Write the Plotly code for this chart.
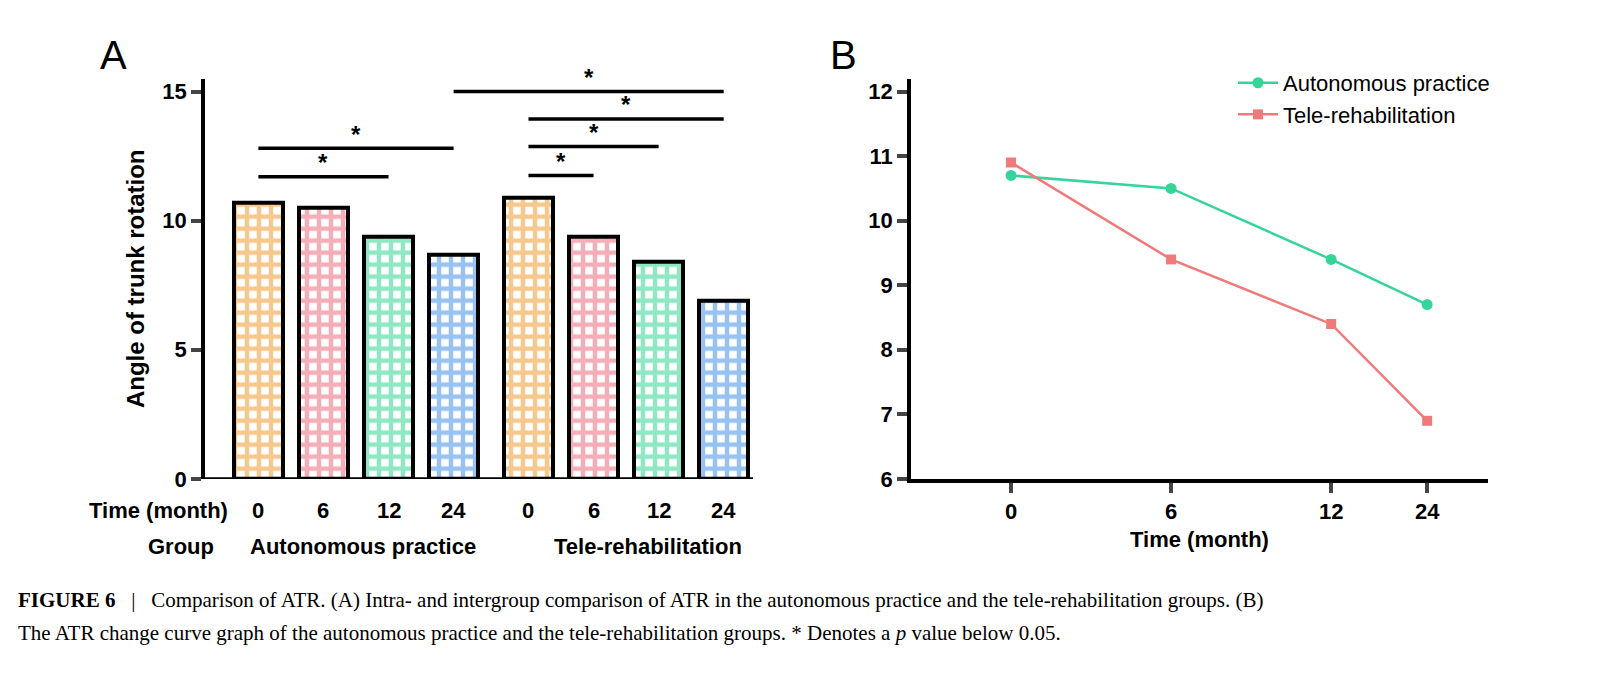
import plotly.graph_objects as go

months = ["0", "6", "12", "24"]
groups = ["Autonomous practice", "Tele-rehabilitation"]
auto_atr = [10.7, 10.5, 9.4, 8.7]
tele_atr = [10.9, 9.4, 8.4, 6.9]
bar_colors = ["#f0921c", "#ec5d6f", "#1fd288", "#2f86e6"]
# significance brackets: (from bar index, to bar index, y)
sig = [(0, 2, 11.7), (0, 3, 12.8), (4, 5, 11.75), (4, 6, 12.87), (4, 7, 13.94), (3, 7, 15.0)]

W, H = 1606, 686
bar_x = [0, 1, 2, 3, 4.15, 5.15, 6.15, 7.15]
line_x = [0, 1, 2, 2.6]

fig = go.Figure()
fig.add_trace(go.Bar(
    x=bar_x, y=auto_atr + tele_atr, width=0.76,
    marker=dict(color="white", line=dict(color="black", width=4),
                pattern=dict(shape="+", fgcolor=bar_colors * 2, bgcolor="white",
                             size=12, solidity=0.6)),
    xaxis="x", yaxis="y", showlegend=False))

for a, b, yv in sig:
    fig.add_trace(go.Scatter(x=[bar_x[a], bar_x[b]], y=[yv, yv], mode="lines",
                             line=dict(color="black", width=3.5), showlegend=False,
                             xaxis="x", yaxis="y", hoverinfo="skip"))
    fig.add_annotation(x=(bar_x[a] + bar_x[b]) / 2, y=yv, text="<b>*</b>", showarrow=False,
                       yshift=14, font=dict(size=24, color="black"), xref="x", yref="y")

fig.add_trace(go.Scatter(x=line_x, y=auto_atr, mode="lines+markers", name=groups[0],
                         line=dict(color="#35d59a", width=2.5),
                         marker=dict(symbol="circle", size=11, color="#35d59a"),
                         xaxis="x2", yaxis="y2"))
fig.add_trace(go.Scatter(x=line_x, y=tele_atr, mode="lines+markers", name=groups[1],
                         line=dict(color="#f07a7a", width=2.5),
                         marker=dict(symbol="square", size=10, color="#f07a7a"),
                         xaxis="x2", yaxis="y2"))

tickfont = dict(family="Liberation Sans, Arial", size=22, color="black")
ydom = [1 - 480 / H, 1 - 72 / H]
fig.update_layout(
    width=W, height=H, margin=dict(l=0, r=0, t=0, b=0),
    plot_bgcolor="white", paper_bgcolor="white",
    font=dict(family="Liberation Sans, Arial", color="black"),
    bargap=0,
    xaxis=dict(domain=[197 / W, 745 / W], range=[-0.82, 7.6], showticklabels=False,
               showline=False, showgrid=False, zeroline=False, ticks=""),
    yaxis=dict(domain=ydom, range=[0, 15.5], tickvals=[0, 5, 10, 15],
               ticktext=["<b>0</b>", "<b>5</b>", "<b>10</b>", "<b>15</b>"],
               tickfont=tickfont, showline=True, linecolor="black", linewidth=3.5,
               ticks="outside", ticklen=10, tickwidth=3.5, showgrid=False, zeroline=False,
               title=dict(text="<b>Angle of trunk rotation</b>", font=dict(size=24), standoff=12)),
    xaxis2=dict(domain=[903 / W, 1480 / W], range=[-0.625, 2.98], tickvals=line_x,
                ticktext=["<b>%s</b>" % m for m in months], tickfont=tickfont,
                showline=True, linecolor="black", linewidth=3.5, ticks="outside",
                ticklen=10, tickwidth=3.5, showgrid=False, zeroline=False,
                title=dict(text="<b>Time (month)</b>", font=dict(size=22), standoff=10)),
    yaxis2=dict(domain=ydom, anchor="x2", range=[6, 12.2], tickvals=[6, 7, 8, 9, 10, 11, 12],
                ticktext=["<b>%d</b>" % v for v in range(6, 13)], tickfont=tickfont,
                showline=True, linecolor="black", linewidth=3.5, ticks="outside",
                ticklen=10, tickwidth=3.5, showgrid=False, zeroline=False),
    legend=dict(x=1225 / W, y=1 - 55 / H, xanchor="left", yanchor="top",
                font=dict(size=22), bgcolor="rgba(0,0,0,0)", itemwidth=40, tracegroupgap=8),
)
# baseline of panel A
fig.add_shape(type="line", xref="x", yref="y", x0=-0.82, x1=7.6, y0=0, y1=0,
              line=dict(color="black", width=3.5))

def ann(x, y, text, size=22, xanchor="center", family="Liberation Sans, Arial"):
    fig.add_annotation(x=x / W, y=1 - y / H, xref="paper", yref="paper", text=text,
                       xanchor=xanchor, yanchor="middle", showarrow=False,
                       font=dict(size=size, color="black", family=family))

ann(105, 48, "A", size=40)
ann(835, 48, "B", size=40)
ann(150, 512, "<b>Time (month)</b>")
for i, xv in enumerate(bar_x):
    fig.add_annotation(x=xv, y=1 - 512 / H, xref="x", yref="paper", text="<b>%s</b>" % months[i % 4],
                       yanchor="middle", showarrow=False, font=tickfont)
ann(173, 549, "<b>Group</b>")
ann(355, 549, "<b>Autonomous practice</b>")
ann(640, 549, "<b>Tele-rehabilitation</b>")

serif = "Liberation Serif, Times New Roman"
ann(8, 603, "<b>FIGURE 6</b>   |   Comparison of ATR. (A) Intra- and intergroup comparison of ATR in the autonomous practice and the tele-rehabilitation groups. (B)",
    size=21, family=serif, xanchor="left")
ann(8, 637, "The ATR change curve graph of the autonomous practice and the tele-rehabilitation groups. * Denotes a <i>p</i> value below 0.05.",
    size=21, family=serif, xanchor="left")

fig.write_html("out.html")
